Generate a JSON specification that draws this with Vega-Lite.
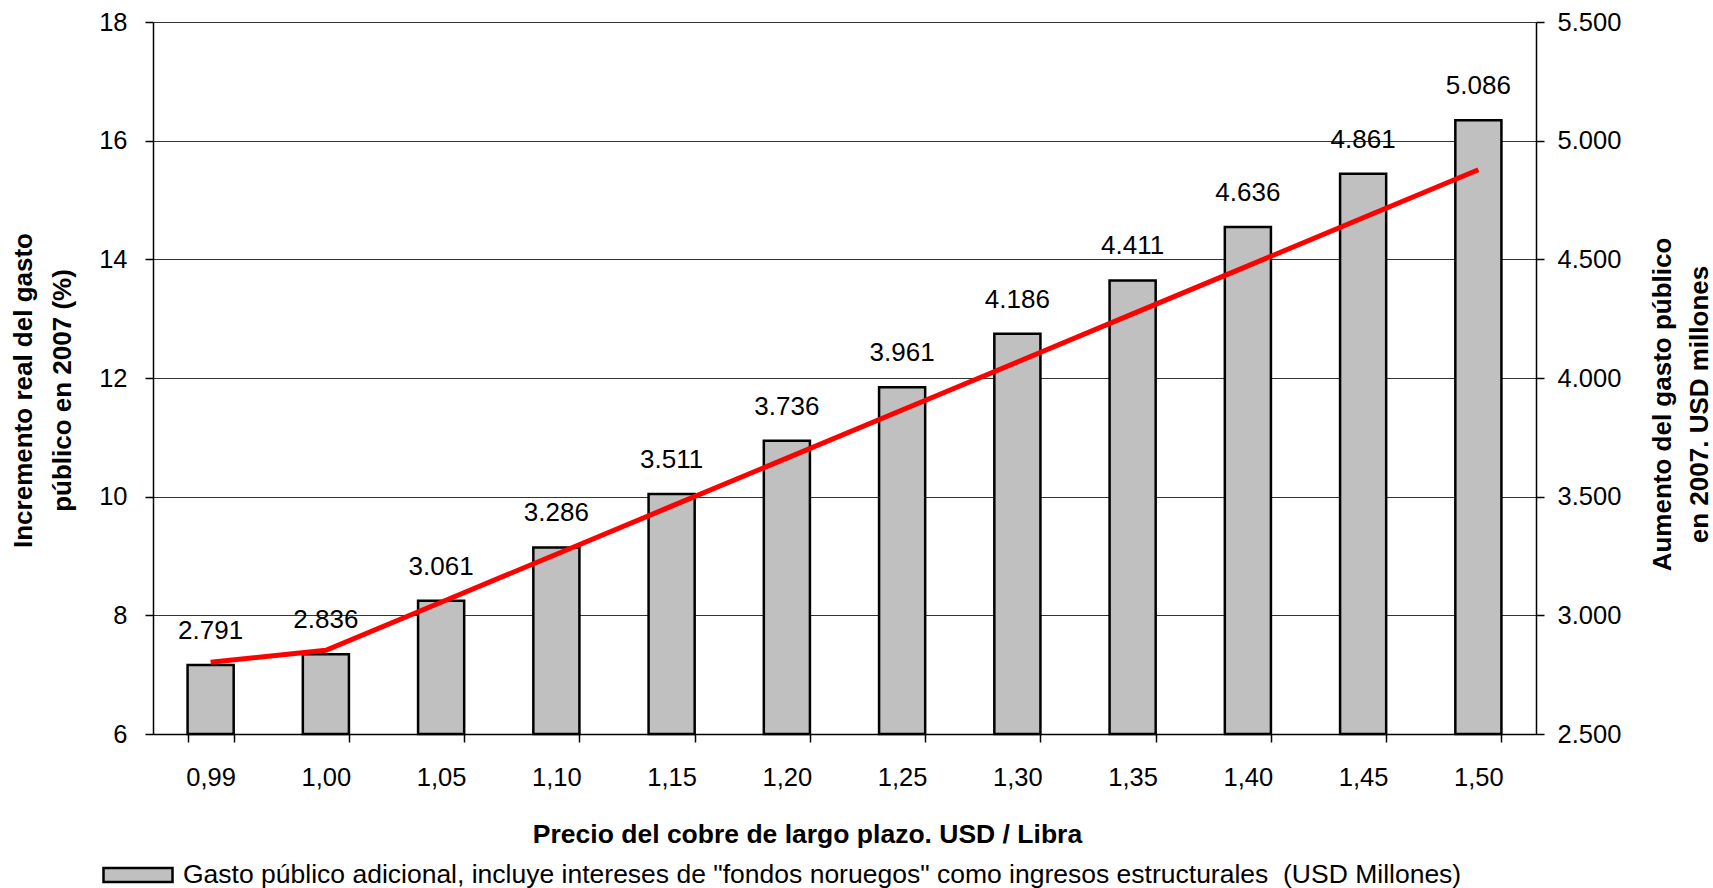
{
  "$schema": "https://vega.github.io/schema/vega-lite/v6.json",
  "width": 1383,
  "height": 712,
  "autosize": {"type": "none"},
  "padding": {"left": 153, "top": 22, "right": 177, "bottom": 154},
  "background": "white",
  "config": {
    "font": "Liberation Sans",
    "view": {"stroke": null},
    "locale": {
      "number": {"decimal": ",", "thousands": ".", "grouping": [3], "currency": ["$", ""]}
    },
    "axis": {
      "labelFont": "Liberation Sans",
      "labelFontSize": 25.5,
      "labelColor": "#000000",
      "titleFont": "Liberation Sans",
      "titleFontSize": 26,
      "titleFontWeight": "bold",
      "titleColor": "#000000",
      "domainColor": "#000000",
      "domainWidth": 1.5,
      "tickColor": "#000000",
      "tickWidth": 1.5
    }
  },
  "data": {
    "values": [
      {"precio": 0.99, "gasto": 2791, "incremento": 7.21},
      {"precio": 1.00, "gasto": 2836, "incremento": 7.41},
      {"precio": 1.05, "gasto": 3061, "incremento": 8.22},
      {"precio": 1.10, "gasto": 3286, "incremento": 9.03},
      {"precio": 1.15, "gasto": 3511, "incremento": 9.84},
      {"precio": 1.20, "gasto": 3736, "incremento": 10.65},
      {"precio": 1.25, "gasto": 3961, "incremento": 11.46},
      {"precio": 1.30, "gasto": 4186, "incremento": 12.27},
      {"precio": 1.35, "gasto": 4411, "incremento": 13.08},
      {"precio": 1.40, "gasto": 4636, "incremento": 13.89},
      {"precio": 1.45, "gasto": 4861, "incremento": 14.70},
      {"precio": 1.50, "gasto": 5086, "incremento": 15.51}
    ]
  },
  "encoding": {
    "x": {
      "field": "precio",
      "type": "ordinal",
      "sort": null,
      "scale": {"paddingInner": 0.6, "paddingOuter": 0.3},
      "axis": {
        "format": ".2f",
        "formatType": "number",
        "labelAngle": 0,
        "tickBand": "extent",
        "tickSize": 8,
        "labelPadding": 23,
        "title": "Precio del cobre de largo plazo. USD / Libra",
        "titleFontSize": 26.5,
        "titleX": 654,
        "titleY": 108,
        "titleAlign": "center",
        "titleBaseline": "alphabetic"
      }
    }
  },
  "layer": [
    {
      "encoding": {
        "y": {
          "field": "gasto",
          "type": "quantitative",
          "scale": {"domain": [2500, 5500], "zero": false, "nice": false},
          "axis": {
            "orient": "right",
            "values": [2500, 3000, 3500, 4000, 4500, 5000, 5500],
            "format": ",d",
            "grid": false,
            "tickSize": 8,
            "labelPadding": 13,
            "title": ["Aumento del gasto público", "en 2007. USD millones"],
            "titleAngle": -90,
            "titleX": 126,
            "titleY": 382,
            "titleAlign": "center",
            "titleBaseline": "middle",
            "titleLineHeight": 37
          }
        }
      },
      "layer": [
        {
          "mark": {"type": "bar", "stroke": "#000000", "strokeWidth": 2.5},
          "encoding": {
            "y2": {"datum": 2500},
            "fill": {
              "datum": "Gasto público adicional, incluye intereses de \"fondos noruegos\" como ingresos estructurales \u00a0(USD Millones)",
              "type": "nominal",
              "scale": {"range": ["#C0C0C0"]},
              "legend": {
                "orient": "none",
                "legendX": -51,
                "legendY": 817,
                "title": null,
                "padding": 0,
                "symbolType": "M-1,-0.2H1V0.2H-1Z",
                "symbolSize": 4761,
                "symbolStrokeColor": "#000000",
                "symbolStrokeWidth": 2.5,
                "symbolFillColor": "#C0C0C0",
                "labelFont": "Liberation Sans",
                "labelFontSize": 26.5,
                "labelColor": "#000000",
                "labelOffset": 9,
                "labelLimit": 2000
              }
            }
          }
        },
        {
          "mark": {
            "type": "text",
            "dy": -26,
            "baseline": "alphabetic",
            "align": "center",
            "font": "Liberation Sans",
            "fontSize": 26,
            "color": "#000000"
          },
          "encoding": {
            "text": {"field": "gasto", "type": "quantitative", "format": ",d"}
          }
        }
      ]
    },
    {
      "mark": {"type": "line", "color": "#FF0000", "strokeWidth": 5},
      "encoding": {
        "y": {
          "field": "incremento",
          "type": "quantitative",
          "scale": {"domain": [6, 18], "zero": false, "nice": false},
          "axis": {
            "orient": "left",
            "values": [6, 8, 10, 12, 14, 16, 18],
            "grid": true,
            "gridColor": "#333333",
            "gridWidth": 1,
            "tickSize": 8,
            "labelPadding": 18,
            "title": ["Incremento real del gasto", "público en 2007 (%)"],
            "titleAngle": -90,
            "titleX": -130,
            "titleY": 368,
            "titleAlign": "center",
            "titleBaseline": "middle",
            "titleLineHeight": 39
          }
        }
      }
    }
  ],
  "resolve": {"scale": {"y": "independent", "fill": "independent"}}
}
